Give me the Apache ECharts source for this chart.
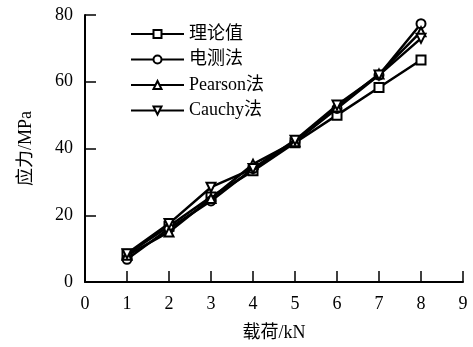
<!DOCTYPE html>
<html><head><meta charset="utf-8">
<script src="https://cdn.jsdelivr.net/npm/echarts@6/dist/echarts.min.js"></script>
<style>html,body{margin:0;padding:0;background:#fff}#c{width:473px;height:347px}</style>
</head><body><div id="c"></div>
<script>
const loads = [1, 2, 3, 4, 5, 6, 7, 8];
const theory = [8.3, 16.7, 25.5, 33.3, 41.7, 50, 58.3, 66.5];
const electric = [6.8, 16, 24.3, 34, 42, 52, 62, 77.4];
const pearson = [8, 15, 25, 35.3, 42, 52.4, 62.3, 75];
const cauchy = [8.5, 17.5, 28.4, 34, 42.5, 53, 62, 73];
const seriesNames = ['理论值', '电测法', 'Pearson法', 'Cauchy法'];
const xTicks = [0, 1, 2, 3, 4, 5, 6, 7, 8, 9];
const yTicks = [0, 20, 40, 60, 80];

const font = '"Liberation Serif","Noto Sans CJK SC",serif';
const symbols = ['emptyRect', 'emptyCircle', 'emptyTriangle', 'emptyTriangle'];
const rotates = [0, 0, 0, 180];
const datas = [theory, electric, pearson, cauchy];

const chart = echarts.init(document.getElementById('c'));
chart.setOption({
  animation: false,
  backgroundColor: '#fff',
  grid: {left: 85, right: 10, top: 15, bottom: 65},
  legend: {
    orient: 'vertical', left: 125, top: 20, itemWidth: 53, itemHeight: 10, itemGap: 7.5,
    textStyle: {fontFamily: font, fontSize: 18, color: '#000'},
    data: seriesNames
  },
  xAxis: {
    type: 'value', min: 0, max: 9, interval: 1,
    name: '载荷/kN', nameLocation: 'middle', nameGap: 42,
    nameTextStyle: {fontFamily: font, fontSize: 18, color: '#000'},
    axisLine: {lineStyle: {color: '#000', width: 2}},
    axisTick: {inside: true, length: 11, lineStyle: {color: '#000', width: 1.5}},
    axisLabel: {fontFamily: font, fontSize: 18, color: '#000', margin: 13},
    splitLine: {show: false}
  },
  yAxis: {
    type: 'value', min: 0, max: 80, interval: 20,
    name: '应力/MPa', nameLocation: 'middle', nameGap: 50,
    nameTextStyle: {fontFamily: font, fontSize: 18, color: '#000'},
    axisLine: {show: true, lineStyle: {color: '#000', width: 2}},
    axisTick: {show: true, inside: true, length: 11, lineStyle: {color: '#000', width: 1.5}},
    axisLabel: {fontFamily: font, fontSize: 18, color: '#000', margin: 12},
    splitLine: {show: false}
  },
  series: seriesNames.map((n, i) => ({
    name: n, type: 'line',
    data: loads.map((x, j) => [x, datas[i][j]]),
    symbol: symbols[i], symbolSize: 9, symbolRotate: rotates[i],
    lineStyle: {color: '#000', width: 2.5},
    itemStyle: {color: '#000', borderWidth: 1},
    z: 2 + i
  }))
});
</script></body></html>
